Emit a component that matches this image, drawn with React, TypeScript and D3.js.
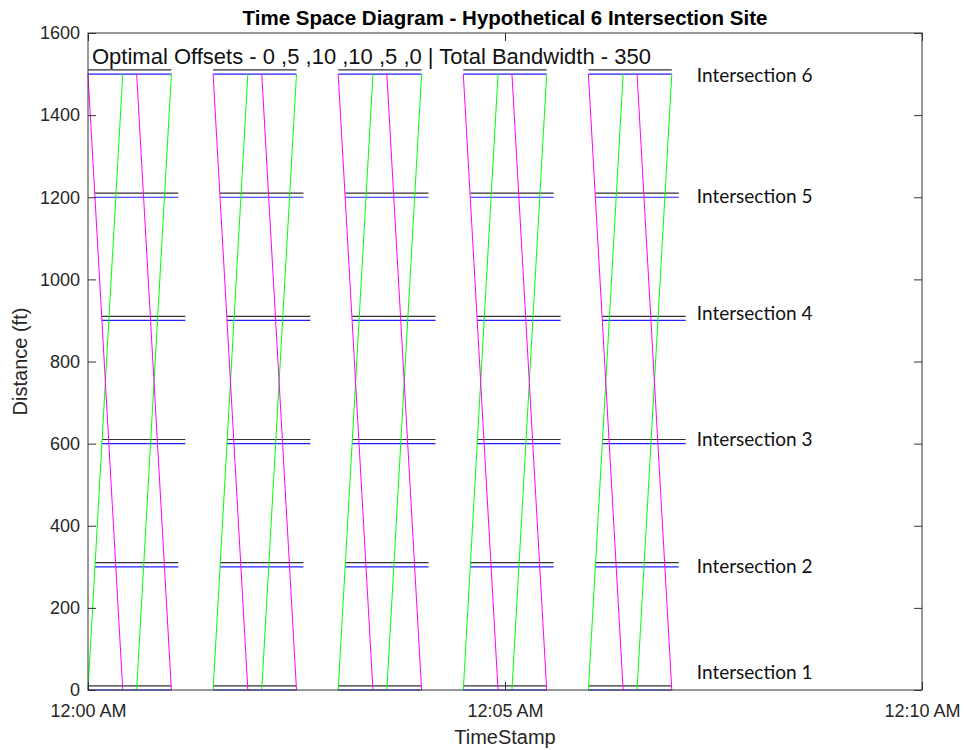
import React, { useRef, useEffect } from "react";
import * as d3 from "d3";

// intersections along the corridor
const intersectionNames = [
  "Intersection 1",
  "Intersection 2",
  "Intersection 3",
  "Intersection 4",
  "Intersection 5",
  "Intersection 6",
];
const intersectionDistance = [0, 300, 600, 900, 1200, 1500];
const offsets = [0, 5, 10, 10, 5, 0];
const labelDistance = [44, 302, 611, 918, 1203, 1498];
const labelTime = 438;

// signal timing (seconds)
const cycleStarts = [0, 90, 180, 270, 360];
const greenTime = 60;
const stopBarGap = 10;

// band edges relative to cycle start: [t0, d0, t1, d1]
const northbound = [
  [0, 0, 25, 1500],
  [35, 0, 60, 1500],
];
const southbound = [
  [0, 1500, 25, 0],
  [35, 1500, 60, 0],
];

const yTicks = [0, 200, 400, 600, 800, 1000, 1200, 1400, 1600];
const xTicks = [0, 300, 600];
const xTickLabels = ["12:00 AM", "12:05 AM", "12:10 AM"];

export default function App() {
  const svgRef = useRef<SVGSVGElement>(null);

  useEffect(() => {
    const svg = d3.select(svgRef.current);
    svg.selectAll("*").remove();

    const width = 964;
    const height = 750;
    const margin = { top: 33, right: 42, bottom: 60, left: 88 };
    const axisColor = "#333";
    const font = "'Liberation Sans', Arial, sans-serif";

    const x = d3
      .scaleLinear()
      .domain([0, 600])
      .range([margin.left, width - margin.right]);
    const y = d3
      .scaleLinear()
      .domain([0, 1600])
      .range([height - margin.bottom, margin.top]);

    const g = svg.append("g");

    // signal green windows: black (upper) and blue (lower) bars
    cycleStarts.forEach((s) => {
      intersectionDistance.forEach((d, i) => {
        g.append("line")
          .attr("x1", x(s + offsets[i]))
          .attr("x2", x(s + offsets[i] + greenTime))
          .attr("y1", y(d + stopBarGap))
          .attr("y2", y(d + stopBarGap))
          .attr("stroke", "#333")
          .attr("stroke-width", 1.2);
        g.append("line")
          .attr("x1", x(s + offsets[i]))
          .attr("x2", x(s + offsets[i] + greenTime))
          .attr("y1", y(d))
          .attr("y2", y(d))
          .attr("stroke", "#2020ff")
          .attr("stroke-width", 1.2);
      });
    });

    // progression bands
    const drawBand = (edges: number[][], color: string) => {
      cycleStarts.forEach((s) => {
        edges.forEach((e) => {
          g.append("line")
            .attr("x1", x(s + e[0]))
            .attr("y1", y(e[1]))
            .attr("x2", x(s + e[2]))
            .attr("y2", y(e[3]))
            .attr("stroke", color)
            .attr("stroke-width", 1);
        });
      });
    };
    drawBand(northbound, "#00ff00");
    drawBand(southbound, "#ff00ff");

    // axes with inward ticks
    const styleAxis = (sel: any) => {
      sel.select(".domain").remove();
      sel.selectAll("line").attr("stroke", axisColor);
      sel
        .selectAll("text")
        .attr("fill", "#262626")
        .style("font-family", font)
        .style("font-size", "18px");
    };

    svg
      .append("g")
      .attr("transform", `translate(${margin.left},0)`)
      .call(
        d3
          .axisLeft(y)
          .tickValues(yTicks)
          .tickSize(-8)
          .tickPadding(8)
          .tickFormat(d3.format("d"))
      )
      .call(styleAxis);
    svg
      .append("g")
      .attr("transform", `translate(${width - margin.right},0)`)
      .call(d3.axisRight(y).tickValues(yTicks).tickSize(-8).tickFormat(() => ""))
      .call(styleAxis);
    svg
      .append("g")
      .attr("transform", `translate(0,${height - margin.bottom})`)
      .call(
        d3
          .axisBottom(x)
          .tickValues(xTicks)
          .tickSize(-8)
          .tickPadding(14)
          .tickFormat((d, i) => xTickLabels[i])
      )
      .call(styleAxis);
    svg
      .append("g")
      .attr("transform", `translate(0,${margin.top})`)
      .call(d3.axisTop(x).tickValues(xTicks).tickSize(-8).tickFormat(() => ""))
      .call(styleAxis);

    // box
    svg
      .append("rect")
      .attr("x", margin.left)
      .attr("y", margin.top)
      .attr("width", width - margin.left - margin.right)
      .attr("height", height - margin.top - margin.bottom)
      .attr("fill", "none")
      .attr("stroke", axisColor)
      .attr("stroke-width", 1);

    // intersection labels
    intersectionNames.forEach((name, i) => {
      svg
        .append("text")
        .attr("x", x(labelTime))
        .attr("y", y(labelDistance[i]))
        .attr("dy", "0.35em")
        .style("font-family", "Lato, 'Open Sans', sans-serif")
        .style("font-size", "19px")
        .attr("fill", "#111")
        .text(name);
    });

    // annotation
    svg
      .append("text")
      .attr("x", 92)
      .attr("y", 64)
      .style("font-family", font)
      .style("font-size", "22px")
      .attr("fill", "#111")
      .text("Optimal Offsets - 0 ,5 ,10 ,10 ,5 ,0 | Total Bandwidth - 350");

    // title
    svg
      .append("text")
      .attr("x", (margin.left + width - margin.right) / 2)
      .attr("y", 25)
      .attr("text-anchor", "middle")
      .style("font-family", font)
      .style("font-size", "20.5px")
      .style("font-weight", "bold")
      .attr("fill", "#000")
      .text("Time Space Diagram - Hypothetical 6 Intersection Site");

    // axis labels
    svg
      .append("text")
      .attr("x", (margin.left + width - margin.right) / 2)
      .attr("y", 744)
      .attr("text-anchor", "middle")
      .style("font-family", font)
      .style("font-size", "20px")
      .attr("fill", "#262626")
      .text("TimeStamp");
    svg
      .append("text")
      .attr("transform", `translate(27,${(margin.top + height - margin.bottom) / 2}) rotate(-90)`)
      .attr("text-anchor", "middle")
      .style("font-family", font)
      .style("font-size", "20px")
      .attr("fill", "#262626")
      .text("Distance (ft)");
  }, []);

  return (
    <svg
      ref={svgRef}
      width={964}
      height={750}
      style={{ position: "absolute", left: 0, top: 0, background: "#fff" }}
    ></svg>
  );
}
